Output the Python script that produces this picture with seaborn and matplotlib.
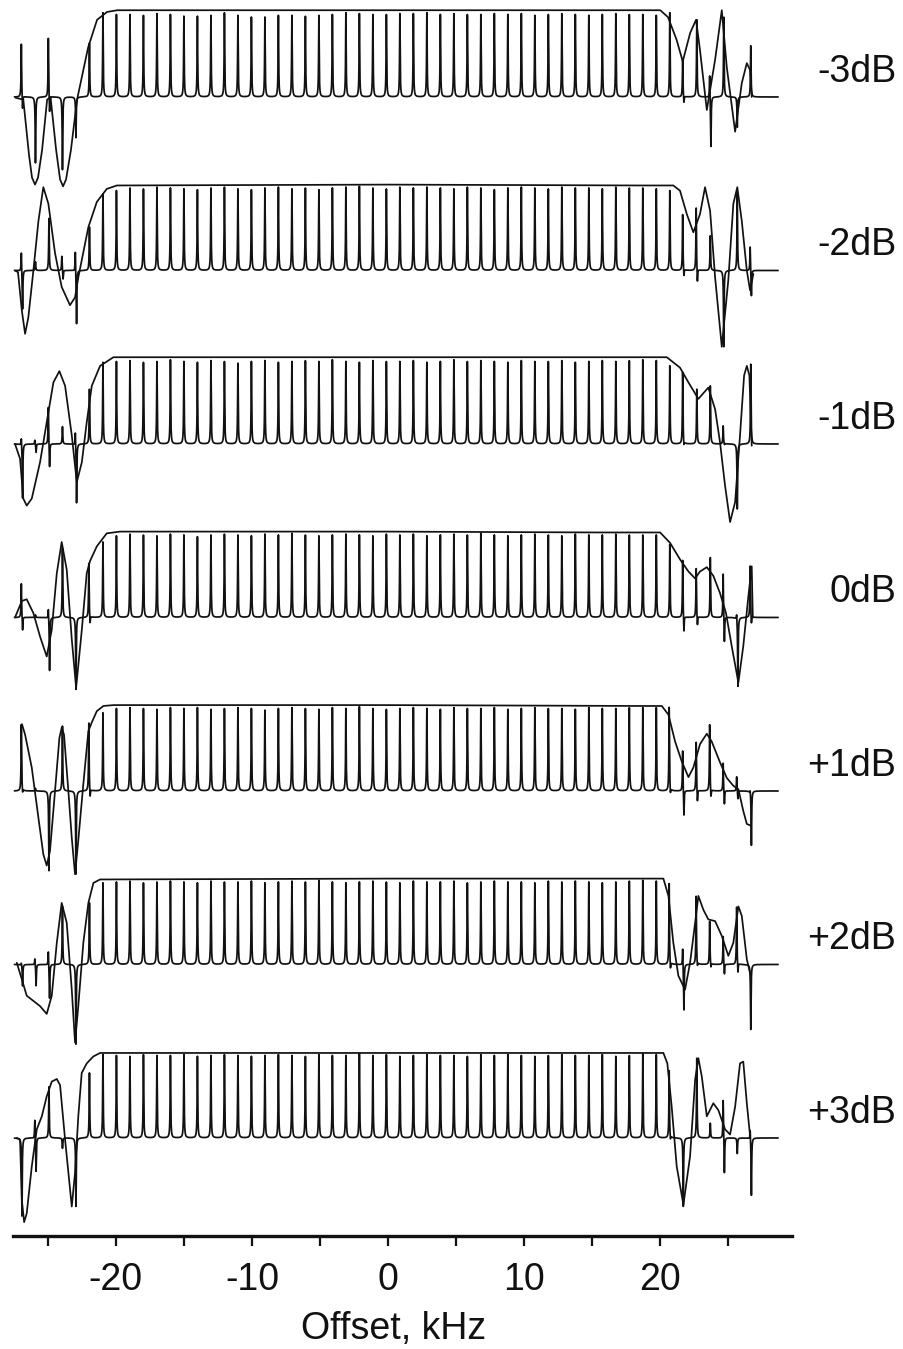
import numpy as np
import pandas as pd
import matplotlib
matplotlib.use("Agg")
import matplotlib.pyplot as plt
import seaborn as sns

# ---------------- data ----------------
labels = ["-3dB", "-2dB", "-1dB", "0dB", "+1dB", "+2dB", "+3dB"]
x_ticks = [-25, -20, -15, -10, -5, 0, 5, 10, 15, 20, 25]
x_ticklabels = ["", "-20", "", "-10", "", "0", "", "10", "", "20", ""]

# offsets (kHz) of the 55 individual spectra
spike_offsets = np.linspace(-26.9, 26.65, 55)

# positive / negative extents of each spike (units of full excitation)
up_m3 = [0.62, 0, 0.69, 0, 0, 0.62, 0.97,
         0.95, 0.95, 0.94, 0.96, 0.95, 0.93, 0.93, 0.94, 0.97, 0.94,
         0.92, 0.92, 0.94, 0.94, 0.93, 0.94, 0.95, 0.97, 0.96, 0.95,
         0.95, 0.96, 0.96, 0.97, 0.95, 0.96, 0.95, 0.95, 0.96, 0.95,
         0.96, 0.94, 0.95, 0.96, 0.95, 0.94, 0.95, 0.96, 0.95, 0.95,
         0.94, 0.97, 0.43, 0.89, 0.28, 0.92, 0.0, 0.59]
dn_m3 = [-0.17, -0.76, -0.21, -0.84, -0.47, 0, 0] + [0] * 42 + \
        [-0.09, 0, -0.59, 0, -0.35, 0]

up_m2 = [0.23, 0.10, 0.60, 0.17, 0.25, 0.50, 0.88,
         0.92, 0.95, 0.94, 0.96, 0.95, 0.94, 0.93, 0.95, 0.96, 0.94,
         0.93, 0.95, 0.96, 0.94, 0.95, 0.93, 0.95, 0.96, 0.97, 0.95,
         0.94, 0.96, 0.95, 0.96, 0.95, 0.94, 0.96, 0.95, 0.93, 0.95,
         0.96, 0.95, 0.94, 0.96, 0.95, 0.95, 0.94, 0.96, 0.95, 0.95,
         0.94, 0.92, 0.65, 0.73, 0.40, 0.0, 0.90, 0.29]
dn_m2 = [-0.46, 0, 0, -0.11, -0.63, 0, 0] + [0] * 42 + \
        [-0.10, -0.17, 0, -0.88, 0, -0.31]

up_m1 = [0.10, 0.05, 0.44, 0.20, 0.17, 0.63, 0.94,
         0.95, 0.96, 0.94, 0.95, 0.97, 0.95, 0.94, 0.96, 0.95, 0.93,
         0.95, 0.96, 0.94, 0.95, 0.96, 0.95, 0.97, 0.95, 0.94, 0.96,
         0.95, 0.95, 0.96, 0.94, 0.95, 0.97, 0.95, 0.96, 0.95, 0.94,
         0.96, 0.95, 0.95, 0.96, 0.94, 0.95, 0.96, 0.95, 0.96, 0.97,
         0.96, 0.90, 0.83, 0.63, 0.67, 0.21, 0.0, 0.92]
dn_m1 = [-0.63, -0.10, -0.29, 0, -0.69, 0, 0] + [0] * 42 + \
        [-0.06, 0, 0, -0.02, -0.75, 0]

up_0 = [0.40, 0.03, 0.13, 0.80, 0.0, 0.63, 0.87,
        0.94, 0.96, 0.95, 0.94, 0.96, 0.95, 0.93, 0.95, 0.96, 0.95,
        0.94, 0.96, 0.95, 0.97, 0.95, 0.94, 0.95, 0.96, 0.95, 0.94,
        0.96, 0.95, 0.96, 0.94, 0.95, 0.96, 0.95, 0.97, 0.95, 0.94,
        0.95, 0.96, 0.95, 0.94, 0.96, 0.95, 0.95, 0.96, 0.95, 0.95,
        0.95, 0.84, 0.67, 0.57, 0.69, 0.52, 0.08, 0.60]
dn_0 = [-0.17, 0, -0.62, 0, -0.83, -0.10, 0] + [0] * 42 + \
       [-0.20, -0.12, 0, -0.31, -0.80, -0.10]

up_p1 = [0.77, 0.03, 0.0, 0.75, 0.0, 0.79, 0.90,
         0.95, 0.96, 0.95, 0.94, 0.96, 0.95, 0.96, 0.94, 0.95, 0.96,
         0.95, 0.93, 0.95, 0.96, 0.95, 0.94, 0.96, 0.95, 0.97, 0.95,
         0.94, 0.95, 0.96, 0.95, 0.94, 0.96, 0.95, 0.95, 0.96, 0.94,
         0.95, 0.96, 0.95, 0.95, 0.94, 0.96, 0.95, 0.95, 0.96, 0.96,
         0.96, 0.97, 0.48, 0.57, 0.77, 0.33, 0.17, 0.04]
dn_p1 = [-0.06, 0, -0.92, 0, -0.96, -0.11, 0] + [0] * 41 + \
        [-0.08, -0.31, -0.15, -0.11, -0.17, -0.10, -0.63]

up_p2 = [0.03, 0.08, 0.17, 0.67, 0.0, 0.71, 0.94,
         0.95, 0.96, 0.94, 0.95, 0.96, 0.95, 0.94, 0.96, 0.95, 0.95,
         0.96, 0.94, 0.95, 0.96, 0.95, 0.97, 0.95, 0.94, 0.95, 0.96,
         0.95, 0.94, 0.96, 0.95, 0.95, 0.96, 0.94, 0.95, 0.96, 0.95,
         0.95, 0.94, 0.96, 0.95, 0.96, 0.95, 0.94, 0.95, 0.96, 0.97,
         0.96, 0.94, 0.21, 0.79, 0.50, 0.33, 0.67, 0.0]
dn_p2 = [-0.25, -0.25, -0.40, 0, -0.92, 0, 0] + [0] * 41 + \
        [-0.10, -0.54, -0.06, -0.06, -0.13, -0.13, -0.75]

up_p3 = [0.0, 0.23, 0.59, 0.0, 0.0, 0.75, 0.96,
         0.95, 0.94, 0.96, 0.95, 0.95, 0.96, 0.94, 0.95, 0.96, 0.95,
         0.94, 0.95, 0.96, 0.95, 0.94, 0.96, 0.95, 0.95, 0.97, 0.95,
         0.96, 0.94, 0.95, 0.96, 0.95, 0.95, 0.94, 0.96, 0.95, 0.96,
         0.95, 0.94, 0.95, 0.96, 0.95, 0.95, 0.96, 0.94, 0.95, 0.97,
         0.96, 0.78, 0.0, 0.92, 0.17, 0.46, 0.0, 0.13]
dn_p3 = [-0.90, -0.40, 0, -0.12, -0.79, 0, 0] + [0] * 41 + \
        [-0.06, -0.79, 0, 0, -0.43, -0.18, -0.67]

# simulated excitation profiles (offset kHz, amplitude)
env_x_m3 = [-27.36, -26.8, -26.38, -26.16, -25.94, -25.72, -25.42, -25.05, -24.8,
            -24.39, -24.1, -23.88, -23.66, -23.3, -22.85, -22.04, -21.38, -20.65,
            -19.9, -10, 0, 10, 20.0, 20.57, 21.2, 21.65, 22.2, 22.63, 22.92, 23.42,
            24.03, 24.52, 24.89, 25.5, 25.99, 26.36, 26.6, 26.72]
env_y_m3 = [-0.01, -0.03, -0.67, -0.93, -1.01, -0.93, -0.61, -0.03, 0.0,
            -0.61, -0.95, -1.03, -0.95, -0.61, -0.03, 0.57, 0.89, 0.98,
            1.0, 1.0, 1.0, 1.0, 1.0, 0.92, 0.66, 0.41, 0.74, 0.89, 0.54, -0.15,
            0.43, 1.0, 0.34, -0.40, 0.16, 0.39, 0.31, 0.0]

env_x_m2 = [-27.41, -27.19, -26.91, -26.67, -26.43, -26.06, -25.69, -25.33, -24.96,
            -24.47, -23.98, -23.37, -23.0, -22.76, -22.02, -21.4, -20.67, -19.93,
            0, 18.5, 20.96, 21.45, 21.95, 22.43, 22.92, 23.29, 23.66, 24.03, 24.52,
            25.0, 25.37, 25.66, 25.99, 26.36, 26.6, 26.84]
env_y_m2 = [0.0, -0.02, -0.46, -0.73, -0.54, 0.0, 0.57, 0.96, 0.77,
            0.20, -0.19, -0.40, -0.31, -0.08, 0.50, 0.79, 0.94, 0.98,
            0.99, 0.98, 0.98, 0.92, 0.65, 0.44, 0.65, 0.96, 0.69, -0.08, -0.88,
            -0.11, 0.77, 0.96, 0.57, 0.0, -0.23, -0.04]

env_x_m1 = [-27.41, -27.04, -26.8, -26.55, -26.18, -25.57, -25.08, -24.59, -24.15,
            -23.73, -23.24, -22.87, -22.5, -22.14, -21.77, -21.16, -20.18,
            0, 18.5, 20.48, 21.45, 22.07, 22.8, 23.53, 24.03, 24.39, 24.76,
            25.13, 25.5, 25.86, 26.16, 26.36, 26.55, 26.72]
env_y_m1 = [0.0, -0.17, -0.63, -0.71, -0.63, -0.21, 0.25, 0.71, 0.84,
            0.67, 0.10, -0.44, -0.21, 0.25, 0.67, 0.90, 1.0,
            1.0, 1.0, 1.0, 0.88, 0.71, 0.52, 0.65, 0.40, 0.02, -0.48,
            -0.90, -0.67, 0.10, 0.79, 0.90, 0.79, -0.02]

env_x_0 = [-27.41, -26.91, -26.55, -26.06, -25.57, -25.08, -24.71, -24.34, -23.98,
           -23.61, -23.24, -22.92, -22.5, -22.14, -21.9, -21.4, -20.67, -19.69,
           0, 15.58, 19.99, 20.72, 21.45, 22.07, 22.56, 22.92, 23.42, 23.9, 24.39,
           24.83, 25.25, 25.74, 26.1, 26.47, 26.72, 26.8]
env_y_0 = [0.0, 0.19, 0.21, 0.05, -0.22, -0.45, -0.14, 0.51, 0.87,
           0.55, -0.25, -0.81, -0.14, 0.51, 0.65, 0.82, 0.97, 0.99,
           0.99, 0.98, 0.98, 0.86, 0.67, 0.53, 0.45, 0.53, 0.58, 0.48, 0.28,
           0.05, -0.33, -0.75, -0.33, 0.24, 0.59, 0.0]

env_x_p1 = [-26.9, -26.67, -26.18, -25.69, -25.33, -25.08, -24.84, -24.47, -24.15,
            -23.98, -23.81, -23.49, -23.24, -23.0, -22.76, -22.39, -22.02, -21.77,
            -21.4, -20.92, -20.18, 0, 18.52, 20.11, 20.6, 21.09, 21.58, 22.07,
            22.43, 22.92, 23.42, 23.78, 24.39, 24.89, 25.37, 25.74, 26.1, 26.36,
            26.65]
env_y_p1 = [0.77, 0.65, 0.27, -0.31, -0.73, -0.86, -0.69, 0.0, 0.61,
            0.73, 0.65, 0.0, -0.54, -0.96, -0.57, 0.08, 0.69, 0.79,
            0.92, 0.98, 0.99, 0.99, 0.98, 0.98, 0.88, 0.57, 0.34, 0.16,
            0.27, 0.54, 0.66, 0.57, 0.33, 0.15, 0.06, 0.02, -0.23, -0.38,
            -0.40]

env_x_p2 = [-27.28, -26.91, -26.55, -26.06, -25.57, -25.08, -24.71, -24.34, -23.98,
            -23.61, -23.24, -23.0, -22.76, -22.39, -22.02, -21.65, -21.16,
            0, 18.52, 20.23, 20.6, 20.96, 21.33, 21.82, 22.19, 22.56, 22.8, 23.17,
            23.53, 24.03, 24.52, 25.0, 25.37, 25.74, 25.99, 26.36, 26.6]
env_y_p2 = [0.02, -0.17, -0.36, -0.42, -0.48, -0.57, -0.36, 0.25, 0.71,
            0.48, -0.29, -0.90, -0.48, 0.25, 0.71, 0.94, 0.98,
            0.99, 0.99, 0.99, 0.79, 0.25, -0.13, -0.29, 0.02, 0.48, 0.79, 0.63,
            0.52, 0.50, 0.33, 0.10, 0.25, 0.67, 0.56, 0.06, -0.10]

env_x_p3 = [-27.28, -27.04, -26.91, -26.74, -26.55, -26.18, -25.81, -25.44, -25.08,
            -24.71, -24.34, -24.1, -23.73, -23.24, -23.0, -22.76, -22.51, -22.14,
            -21.65, -21.16, 0, 18.52, 20.23, 20.52, 20.84, 21.21, 21.7, 22.19,
            22.56, 22.8, 23.05, 23.42, 23.9, 24.27, 24.76, 25.13, 25.5, 25.86,
            26.1, 26.36, 26.6]
env_y_p3 = [0.0, -0.02, -0.71, -0.97, -0.87, -0.33, 0.10, 0.25, 0.48,
            0.65, 0.68, 0.61, -0.02, -0.79, -0.40, 0.25, 0.75, 0.86,
            0.94, 0.98, 0.98, 0.98, 0.98, 0.86, 0.36, -0.33, -0.77, -0.21,
            0.67, 0.92, 0.71, 0.25, 0.40, 0.32, 0.10, 0.04, 0.36, 0.86,
            0.88, 0.40, 0.02]

ups = [up_m3, up_m2, up_m1, up_0, up_p1, up_p2, up_p3]
dns = [dn_m3, dn_m2, dn_m1, dn_0, dn_p1, dn_p2, dn_p3]
env_xs = [env_x_m3, env_x_m2, env_x_m1, env_x_0, env_x_p1, env_x_p2, env_x_p3]
env_ys = [env_y_m3, env_y_m2, env_y_m1, env_y_0, env_y_p1, env_y_p2, env_y_p3]

# ---------------- style / layout ----------------
sns.set_theme(style="white")
plt.rcParams["font.family"] = ["Liberation Sans", "DejaVu Sans"]

COLOR = "#111111"
LW = 1.25
FS = 27
SPACING = 2.0           # vertical distance between stacked traces
W = 0.024               # line width (kHz) of an individual spectrum
SHIFT = 0.045           # small separation of +/- lobes in a spike
grid = np.arange(-27.45, 28.66, 0.002)

fig = plt.figure(figsize=(9.04, 13.49), dpi=100)
ax = fig.add_axes([12.7 / 904, 1 - 1236 / 1349, (791.6 - 12.7) / 904, 1236 / 1349])


def lorentz(center):
    return W ** 2 / ((grid - center) ** 2 + W ** 2)


for k, (lab, up, dn, ex, ey) in enumerate(zip(labels, ups, dns, env_xs, env_ys)):
    base = -SPACING * k
    spec = np.zeros_like(grid)
    for p, u, d in zip(spike_offsets, up, dn):
        if u:
            spec += u * lorentz(p - SHIFT if d else p)
        if d:
            spec += d * lorentz(p + SHIFT if u else p)
    df = pd.DataFrame({"offset": grid, "amp": spec + base})
    sns.lineplot(data=df, x="offset", y="amp", ax=ax, color=COLOR, lw=LW,
                 estimator=None, sort=False, errorbar=None)
    de = pd.DataFrame({"offset": ex, "amp": np.array(ey) + base})
    sns.lineplot(data=de, x="offset", y="amp", ax=ax, color=COLOR, lw=LW,
                 estimator=None, sort=False, errorbar=None)
    ax.text(1.1345, base + 0.29, lab, transform=ax.get_yaxis_transform(),
            ha="right", va="center", fontsize=FS, color=COLOR, clip_on=False)

ax.set_xlim(-27.58, 29.65)
ax.set_ylim(-13.13, 1.118)

for s in ["left", "right", "top"]:
    ax.spines[s].set_visible(False)
ax.spines["bottom"].set_linewidth(2.4)
ax.spines["bottom"].set_color(COLOR)
ax.set_yticks([])
ax.set_ylabel("")
ax.set_xticks(x_ticks)
ax.set_xticklabels(x_ticklabels)
ax.tick_params(axis="x", direction="out", length=7.5, width=1.6, color=COLOR,
               labelsize=FS, labelcolor=COLOR, pad=11, bottom=True)
ax.set_xlabel("Offset, kHz", fontsize=FS, color=COLOR)
ax.xaxis.set_label_coords(0.4895, -0.0607)
ax.grid(False)

fig.savefig("out.png", dpi=100)
